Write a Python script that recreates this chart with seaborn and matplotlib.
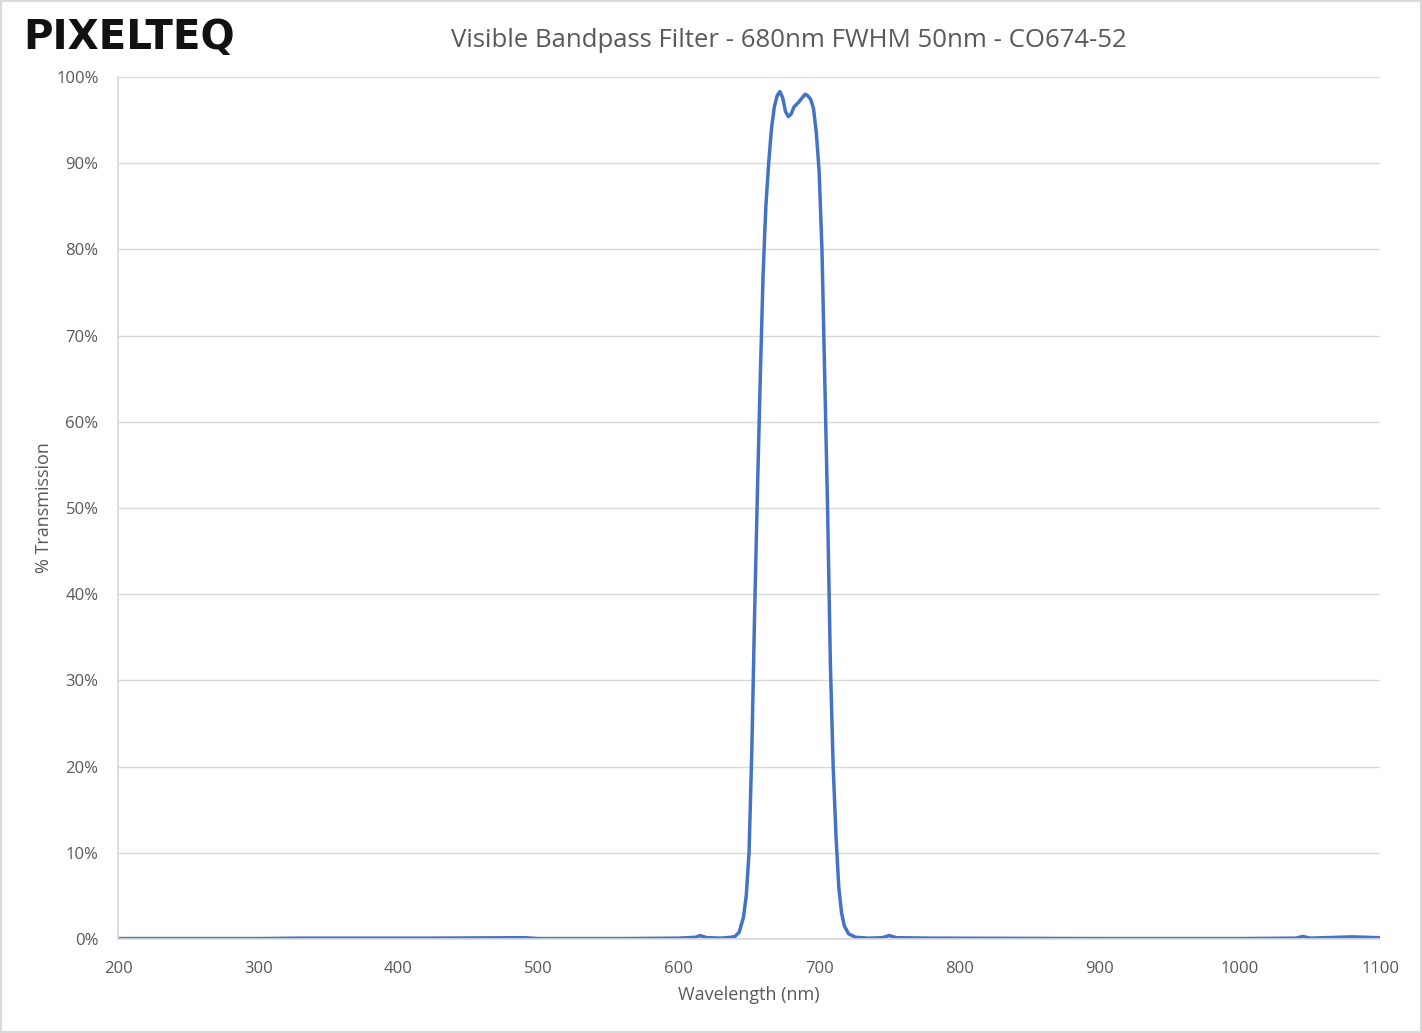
import numpy as np
import pandas as pd
import matplotlib
matplotlib.use("Agg")
import matplotlib.pyplot as plt
from matplotlib.ticker import PercentFormatter
from matplotlib.patches import Rectangle
import seaborn as sns

# wavelength (nm) and transmission (%)
wavelength = [200, 300, 330, 380, 420, 490, 500, 560, 600, 612, 615, 620, 630, 637,
              640, 643, 646, 648, 650, 652, 654, 656, 658, 660, 662, 664, 666, 668,
              670, 672, 674, 676, 678, 680, 682, 685, 688, 690, 692, 694, 696, 698,
              700, 702, 704, 706, 708, 710, 712, 714, 716, 718, 721, 726, 735, 745,
              750, 755, 780, 900, 1000, 1040, 1045, 1050, 1080, 1100]
transmission = [0.05, 0.05, 0.1, 0.1, 0.1, 0.15, 0.05, 0.05, 0.1, 0.2, 0.4, 0.15, 0.1, 0.2,
                0.3, 0.8, 2.5, 5, 10, 22, 38, 52, 65, 77, 85, 90, 94, 96.5,
                97.8, 98.3, 97.6, 96.0, 95.4, 95.7, 96.5, 97.0, 97.6, 98.0, 97.8, 97.4, 96.3, 93.5,
                89, 80, 65, 50, 32, 20, 12, 6, 3, 1.5, 0.6, 0.2, 0.1, 0.15,
                0.4, 0.15, 0.1, 0.05, 0.05, 0.1, 0.3, 0.1, 0.25, 0.15]

df = pd.DataFrame({"Wavelength (nm)": wavelength, "% Transmission": transmission})

sns.set_theme(style="white")
plt.rcParams['font.family'] = ['Open Sans', 'DejaVu Sans']

fig = plt.figure(figsize=(14.22, 10.33), dpi=100)
ax = fig.add_axes([0.083, 0.091, 0.8875, 0.8345])

sns.lineplot(data=df, x="Wavelength (nm)", y="% Transmission", ax=ax,
             color="#4472C4", linewidth=2.5)

ax.set_xlim(200, 1100)
ax.set_ylim(0, 100)
ax.set_xticks(range(200, 1101, 100))
ax.set_yticks(range(0, 101, 10))
ax.yaxis.set_major_formatter(PercentFormatter(decimals=0))
ax.grid(axis="y", color="#d9d9d9", linewidth=1)
for s in ["top", "right"]:
    ax.spines[s].set_visible(False)
ax.spines["left"].set_color("#d9d9d9")
ax.spines["bottom"].set_color("#d9d9d9")
ax.tick_params(axis="x", colors="#595959", labelsize=12, length=0, pad=16)
ax.tick_params(axis="y", colors="#595959", labelsize=12, length=0, pad=14)
ax.set_xlabel("Wavelength (nm)", fontsize=13, color="#595959", labelpad=6)
ax.set_ylabel("% Transmission", fontsize=13, color="#595959", labelpad=2)

fig.text(0.555, 0.961, "Visible Bandpass Filter - 680nm FWHM 50nm - CO674-52",
         ha="center", va="center", fontsize=18.5, color="#595959")

# logo
fig.text(0.016, 0.963, "PIXELTEQ", fontsize=29, fontweight="bold", color="#111111",
         va="center", ha="left", family=["DejaVu Sans"])

fig.add_artist(Rectangle((0.001, 0.001), 0.998, 0.998, transform=fig.transFigure,
                         fill=False, edgecolor="#d9d9d9", linewidth=1.5))

fig.savefig("out.png", dpi=100)
